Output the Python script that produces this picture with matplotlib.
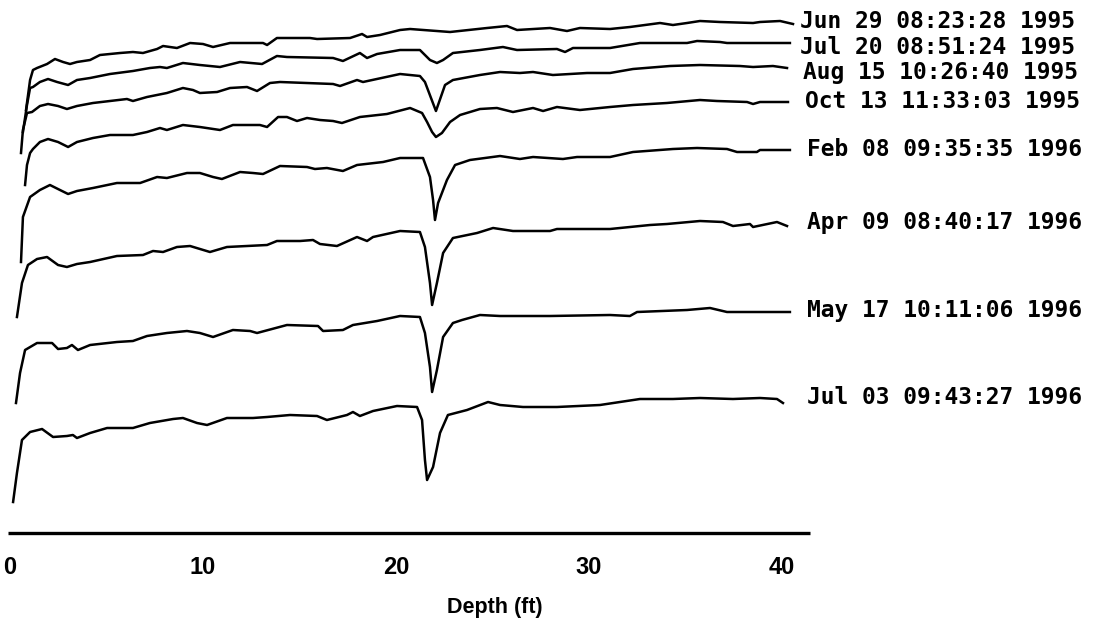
import matplotlib
matplotlib.use("Agg")
import matplotlib.pyplot as plt

# trace labels (top to bottom)
labels = [
    "Jun 29 08:23:28 1995",
    "Jul 20 08:51:24 1995",
    "Aug 15 10:26:40 1995",
    "Oct 13 11:33:03 1995",
    "Feb 08 09:35:35 1996",
    "Apr 09 08:40:17 1996",
    "May 17 10:11:06 1996",
    "Jul 03 09:43:27 1996",
]

depth_ticks = [0, 10, 20, 30, 40]

# depth [ft] / stacked level (arbitrary units, offset per trace)
jun95_depth = [0.83, 1.04, 1.19, 1.40, 1.92, 2.33, 2.75, 3.11, 3.47, 4.15, 4.66, 5.70, 6.37, 6.89, 7.62, 7.93,
               8.65, 9.33, 10.0, 10.52, 11.40, 13.11, 13.32, 13.83, 15.54, 15.91, 17.62, 18.24, 18.50, 19.17,
               20.21, 20.73, 22.80, 24.72, 25.75, 26.27, 27.98, 28.86, 29.53, 31.09, 32.12, 33.68, 34.35,
               35.08, 35.75, 36.79, 38.50, 38.86, 39.90, 40.57]
jun95_level = [423, 453, 463, 465, 469, 474, 471, 469, 471, 473, 478, 480, 481, 480, 484, 487,
               485, 490, 489, 486, 490, 490, 488, 495, 495, 494, 495, 499, 496, 498,
               503, 504, 501, 505, 507, 503, 505, 502, 505, 504, 506, 510, 508,
               510, 512, 511, 510, 511, 512, 509]

jul95_depth = [0.67, 0.88, 1.04, 1.19, 1.55, 1.97, 2.44, 3.01, 3.47, 4.15, 5.18, 6.37, 7.25, 7.77, 8.13, 8.96,
               9.84, 10.88, 11.92, 13.06, 13.83, 14.35, 16.74, 17.25, 18.13, 18.50, 19.02, 20.21, 21.24,
               21.76, 22.12, 22.44, 22.95, 24.35, 25.54, 26.27, 28.34, 28.76, 29.17, 31.09, 32.64, 35.08,
               35.60, 36.79, 37.15, 40.41]
jul95_level = [401, 428, 445, 446, 451, 454, 451, 448, 453, 455, 459, 462, 465, 466, 465, 470,
               468, 466, 471, 469, 477, 476, 475, 472, 480, 475, 479, 483, 483,
               473, 470, 473, 480, 483, 486, 483, 484, 481, 485, 485, 490, 490,
               492, 491, 490, 490]

aug95_depth = [0.57, 0.67, 0.88, 1.14, 1.55, 1.97, 2.49, 2.95, 3.47, 4.30, 5.18, 6.06, 6.37, 7.10, 8.13, 8.96,
               9.48, 9.84, 10.73, 11.40, 12.28, 12.80, 13.47, 13.99, 16.74, 17.10, 17.98, 18.29, 20.21,
               21.24, 21.50, 22.07, 22.54, 22.95, 24.35, 25.39, 26.42, 27.10, 28.13, 29.90, 31.09, 32.28,
               34.20, 35.75, 37.82, 38.50, 39.53, 40.26]
aug95_level = [380, 403, 420, 421, 427, 429, 427, 424, 427, 430, 432, 434, 432, 436, 440, 445,
               443, 440, 441, 445, 446, 442, 450, 451, 449, 447, 453, 451, 459,
               457, 451, 422, 448, 453, 458, 461, 460, 461, 458, 460, 460, 464,
               467, 468, 467, 466, 467, 465]

oct95_depth = [0.78, 0.88, 1.04, 1.19, 1.55, 1.97, 2.49, 3.01, 3.47, 4.30, 5.18, 6.37, 7.10, 7.77, 8.13, 8.96,
               9.84, 10.88, 11.55, 12.95, 13.32, 13.89, 14.35, 14.87, 15.39, 16.06, 16.74, 17.20, 18.13,
               19.53, 20.73, 21.35, 21.61, 21.87, 22.07, 22.38, 22.80, 23.32, 24.35, 25.23, 26.06, 27.10,
               27.62, 28.34, 29.53, 31.09, 32.28, 34.04, 35.75, 36.63, 38.19, 38.50, 38.86, 40.31]
oct95_level = [348, 368, 380, 384, 391, 394, 391, 386, 391, 395, 398, 398, 401, 405, 403, 408,
               406, 403, 408, 408, 406, 416, 416, 412, 415, 413, 412, 410, 416,
               419, 425, 420, 411, 401, 396, 400, 411, 418, 424, 425, 421, 425,
               422, 426, 423, 426, 428, 430, 433, 432, 431, 429, 431, 431]

feb96_depth = [0.57, 0.67, 1.04, 1.55, 2.07, 2.59, 3.01, 3.47, 4.30, 5.54, 6.74, 7.62, 8.13, 9.17, 9.84, 10.52,
               10.98, 11.92, 12.59, 13.11, 13.99, 15.39, 15.80, 16.42, 17.25, 17.98, 19.33, 20.21, 21.40,
               21.76, 21.92, 22.02, 22.18, 22.64, 23.06, 23.83, 25.39, 26.42, 27.10, 28.65, 29.38, 31.09,
               32.28, 34.35, 35.60, 37.15, 37.67, 38.70, 38.86, 40.41]
feb96_level = [271, 316, 336, 343, 348, 343, 339, 342, 345, 350, 350, 356, 355, 360, 360, 356,
               354, 361, 360, 359, 367, 366, 364, 365, 362, 368, 371, 375, 375,
               356, 333, 313, 330, 353, 368, 373, 377, 374, 376, 374, 376, 376,
               381, 384, 385, 384, 381, 381, 383, 383]

apr96_depth = [0.36, 0.62, 0.93, 1.40, 1.92, 2.49, 2.95, 3.47, 4.15, 5.54, 6.89, 7.41, 7.93, 8.65, 9.33, 10.36,
               11.24, 13.32, 13.83, 15.03, 15.70, 16.06, 16.94, 17.98, 18.50, 18.81, 20.21, 21.24, 21.50,
               21.76, 21.87, 22.12, 22.44, 22.95, 24.20, 25.03, 26.06, 27.98, 28.34, 31.09, 33.16, 34.04,
               35.75, 36.94, 37.46, 38.34, 38.50, 39.74, 40.26]
apr96_level = [216, 250, 268, 274, 276, 268, 266, 269, 271, 277, 278, 282, 281, 286, 287, 281,
               286, 288, 292, 292, 293, 289, 287, 296, 292, 296, 302, 301, 286,
               250, 228, 250, 280, 295, 300, 305, 302, 302, 304, 304, 308, 309,
               312, 311, 307, 309, 306, 311, 307]

may96_depth = [0.31, 0.52, 0.78, 1.40, 2.18, 2.49, 2.95, 3.21, 3.52, 4.15, 5.54, 6.37, 7.10, 8.13, 9.17, 9.84,
               10.52, 11.55, 12.44, 12.80, 14.35, 15.96, 16.22, 17.25, 17.77, 19.02, 20.21, 21.24, 21.50,
               21.76, 21.87, 22.12, 22.44, 22.95, 23.42, 24.35, 25.39, 27.98, 31.09, 32.12, 32.49, 35.08,
               36.27, 37.15, 40.41]
may96_level = [130, 160, 183, 190, 190, 184, 185, 188, 183, 188, 191, 192, 197, 200, 202, 200,
               196, 203, 202, 200, 208, 207, 202, 203, 208, 212, 217, 216, 200,
               166, 141, 163, 196, 210, 213, 218, 217, 217, 218, 217, 221, 223,
               225, 221, 221]

jul96_depth = [0.16, 0.36, 0.62, 1.04, 1.66, 2.23, 2.95, 3.26, 3.47, 4.15, 5.03, 6.37, 7.25, 8.45, 8.96, 9.69,
               10.21, 11.24, 12.59, 13.32, 14.51, 15.91, 16.42, 17.46, 17.77, 18.13, 18.81, 20.05, 21.09,
               21.35, 21.50, 21.61, 21.92, 22.28, 22.69, 23.68, 24.77, 25.39, 26.58, 28.34, 30.57, 32.64,
               34.35, 35.75, 37.46, 38.86, 39.74, 40.05]
jul96_level = [31, 60, 93, 101, 104, 96, 97, 98, 95, 100, 105, 105, 110, 114, 115, 110,
               108, 115, 115, 116, 118, 117, 113, 118, 121, 117, 122, 127, 126,
               113, 73, 53, 66, 100, 118, 123, 131, 128, 126, 126, 128, 134,
               134, 135, 134, 135, 134, 130]

traces = [
    (jun95_depth, jun95_level),
    (jul95_depth, jul95_level),
    (aug95_depth, aug95_level),
    (oct95_depth, oct95_level),
    (feb96_depth, feb96_level),
    (apr96_depth, apr96_level),
    (may96_depth, may96_level),
    (jul96_depth, jul96_level),
]

# label positions in figure pixels (x start, y centre)
label_pos = [(800, 22), (800, 48), (803, 72), (805, 102), (807, 150), (807, 222), (807, 310), (807, 397)]

W, H = 1106, 624
fig = plt.figure(figsize=(W / 100, H / 100), dpi=100)
ax = fig.add_axes([0, 0, 1, 1])
# map: x_px = 10 + 19.3 * depth ; level = 533 - y_px
ax.set_xlim(-10 / 19.3, (W - 10) / 19.3)
ax.set_ylim(533 - H, 533)
ax.axis("off")

for d, v in traces:
    ax.plot(d, v, color="black", lw=1.8, solid_joinstyle="round")

# depth axis
ax.plot([-0.1, 41.45], [0, 0], color="black", lw=2.4, solid_capstyle="butt")
for t in depth_ticks:
    ax.text(t, -34, str(t), ha="center", va="center", fontsize=17, fontweight="bold",
            family="Liberation Sans")
ax.text(25.1, -75, "Depth (ft)", ha="center", va="center", fontsize=15.5, fontweight="bold",
        family="Liberation Sans")

for lab, (px, py) in zip(labels, label_pos):
    fig.text(px / W, 1 - py / H, lab, ha="left", va="center", fontsize=16.5, fontweight="bold",
             family="DejaVu Sans Mono")

fig.savefig("out.png", dpi=100)
